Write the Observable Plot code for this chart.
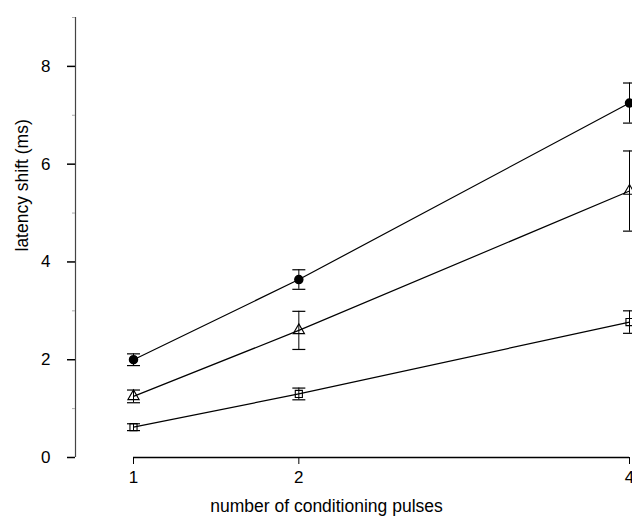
<!DOCTYPE html>
<html>
<head>
<meta charset="utf-8">
<script src="https://cdn.jsdelivr.net/npm/d3@7"></script>
<script src="https://cdn.jsdelivr.net/npm/@observablehq/plot@0.6"></script>
<style>
  html, body { margin: 0; padding: 0; background: #fff; }
</style>
</head>
<body>
<div id="chart"></div>
<script>
// ---- data ----
const pulses = [1, 2, 4];
const seriesNames = ["filled circle", "open triangle", "open square"];
const circleMean = [2.0, 3.64, 7.25];
const circleErr  = [0.12, 0.20, 0.41];
const triMean    = [1.25, 2.60, 5.45];
const triErr     = [0.13, 0.39, 0.82];
const sqMean     = [0.62, 1.30, 2.77];
const sqErr      = [0.07, 0.12, 0.23];
const yMajorTicks = [0, 2, 4, 6, 8];
const yMinorTicks = [1, 3, 5, 7, 9];
const xTicks = [1, 2, 4];
const xDomain = [1, 4];
const yDomain = [0, 9];
const xLabel = "number of conditioning pulses";
const yLabel = "latency shift (ms)";

// ---- build table ----
const means = [circleMean, triMean, sqMean];
const errs = [circleErr, triErr, sqErr];
const rows = [];
seriesNames.forEach((s, i) => {
  pulses.forEach((p, j) => {
    rows.push({series: s, x: p, y: means[i][j], lo: means[i][j] - errs[i][j], hi: means[i][j] + errs[i][j]});
  });
});
const bySeries = s => rows.filter(d => d.series === s);

// horizontal cap symbol for error bars
const capSymbol = {
  draw(ctx, size) {
    const w = Math.sqrt(size / Math.PI);
    ctx.moveTo(-w, 0);
    ctx.lineTo(w, 0);
  }
};

const font = "'Liberation Sans', Arial, Helvetica, sans-serif";
const axisShift = -58;

const chart = Plot.plot({
  width: 632,
  height: 516,
  marginLeft: 133,
  marginRight: 3,
  marginTop: 17,
  marginBottom: 59,
  style: {fontFamily: font, fontSize: "17px", color: "#000", background: "#fff"},
  x: {type: "linear", domain: xDomain},
  y: {domain: yDomain},
  marks: [
    // y axis line
    Plot.ruleX([xDomain[0]], {y1: yDomain[0], y2: yDomain[1], dx: axisShift, stroke: "#444", strokeWidth: 1.2}),
    // minor y ticks
    Plot.axisY({ticks: yMinorTicks, tickSize: 3, tickFormat: () => "", stroke: "#aaa", dx: axisShift, label: null}),
    // major y ticks
    Plot.axisY({ticks: yMajorTicks, tickSize: 8, tickPadding: 17, strokeWidth: 1.5, dx: axisShift,
      label: null, fontSize: 17}),
    Plot.text([yLabel], {frameAnchor: "left", rotate: -90, dx: -111, dy: 14, fontSize: 17.5, fill: "#000"}),
    // x axis line
    Plot.ruleY([yDomain[0]], {x1: xDomain[0], x2: xDomain[1], stroke: "#000", strokeWidth: 1.5}),
    Plot.axisX({ticks: xTicks, tickSize: 7, tickPadding: 6, tickFormat: d3.format("d"), label: null, fontSize: 17}),
    Plot.text([xLabel], {frameAnchor: "bottom", dy: 54, dx: -55, fontSize: 17.5, fill: "#000"}),
    // lines
    Plot.line(rows, {x: "x", y: "y", z: "series", stroke: "#000", strokeWidth: 1.2}),
    // error bars
    Plot.ruleX(rows, {x: "x", y1: "lo", y2: "hi", stroke: "#000", strokeWidth: 1}),
    Plot.dot(rows, {x: "x", y: "lo", symbol: capSymbol, r: 6.5, stroke: "#000", strokeWidth: 1.2}),
    Plot.dot(rows, {x: "x", y: "hi", symbol: capSymbol, r: 6.5, stroke: "#000", strokeWidth: 1.2}),
    // markers
    Plot.dot(bySeries("filled circle"), {x: "x", y: "y", r: 4, fill: "#000", stroke: "#000"}),
    Plot.dot(bySeries("open triangle"), {x: "x", y: "y", symbol: "triangle", r: 4.2, fill: "none", stroke: "#000", strokeWidth: 1.1}),
    Plot.dot(bySeries("open square"), {x: "x", y: "y", symbol: "square", r: 4, fill: "none", stroke: "#000", strokeWidth: 1.1})
  ]
});
document.getElementById("chart").appendChild(chart);
</script>
</body>
</html>
